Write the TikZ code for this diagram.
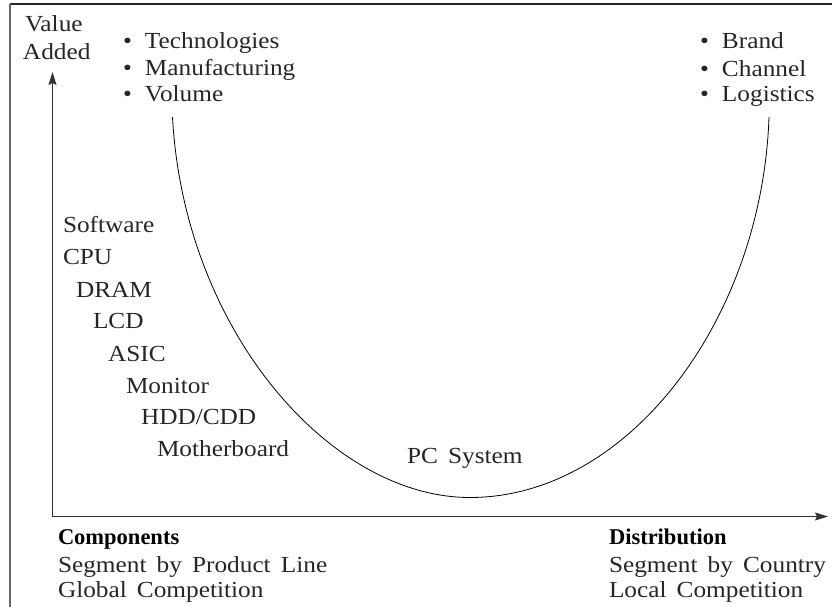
\documentclass[tikz,border=0pt]{standalone}
\usepackage{fontspec}
\setmainfont{Liberation Serif}[FakeStretch=1.1, WordSpace=1.6]
\newfontfamily\headfont{Liberation Serif}[FakeStretch=1.0]
\usetikzlibrary{arrows.meta}
\begin{document}
\begin{tikzpicture}[x=1pt,y=-1pt,
  lbl/.style={anchor=base west, inner sep=0pt, outer sep=0pt,
              font=\fontsize{23pt}{27pt}\selectfont, text=black!85},
  head/.style={lbl, font=\headfont\bfseries\fontsize{22.5pt}{27pt}\selectfont, text=black},
  axisline/.style={line width=1.1pt, black!80,
                   -{Stealth[length=13pt, width=8pt, inset=2pt]}},
  framegray/.style={line width=1.3pt, black!60},
  framedark/.style={line width=1.4pt, black!85},
  curveline/.style={line width=0.8pt, black}]
\useasboundingbox (0,0) rectangle (832,607);

% outer frame (left and top edges)
\draw[framedark] (9.5,4) -- (832,4);
\draw[framegray] (10,4) -- (10,607);

% axes
\coordinate (O) at (52.5,516.5);
\coordinate (ytip) at (52.5,72);
\coordinate (xtip) at (828,516.5);
\draw[axisline] (O) -- (ytip);
\draw[axisline] (O) -- (xtip);

% value-added "smile" curve
\coordinate (cstart) at (172.5,117);
\coordinate (cbottom) at (470,497.5);
\coordinate (cend) at (769,117);
\draw[curveline] (cstart) .. controls (184,330) and (330,497.5) .. (cbottom)
                 .. controls (628,497.5) and (762,320) .. (cend);

% axis title
\node[lbl] (value) at (25,32) {Value};
\node[lbl] (added) at (23,60) {Added};

% upstream drivers
\node[lbl] (tech) at (123,49) {\makebox[22pt][l]{\textbullet}Technologies};
\node[lbl] (manu) at (123,76) {\makebox[22pt][l]{\textbullet}Manufacturing};
\node[lbl] (vol)  at (123,102) {\makebox[22pt][l]{\textbullet}Volume};

% downstream drivers
\node[lbl] (brand) at (700,49) {\makebox[22pt][l]{\textbullet}Brand};
\node[lbl] (chan)  at (700,77) {\makebox[22pt][l]{\textbullet}Channel};
\node[lbl] (logi)  at (700,102) {\makebox[22pt][l]{\textbullet}Logistics};

% components along the curve
\node[lbl] (sw)   at (63,232) {Software};
\node[lbl] (cpu)  at (63,264) {CPU};
\node[lbl] (dram) at (76,297) {DRAM};
\node[lbl] (lcd)  at (93,328) {LCD};
\node[lbl] (asic) at (108,361) {ASIC};
\node[lbl] (mon)  at (126,393) {Monitor};
\node[lbl] (hdd)  at (141,424) {HDD/CDD};
\node[lbl] (mb)   at (157,456) {Motherboard};
\node[lbl] (pc)   at (407,463) {PC System};

% segment descriptions below the axis
\node[head] (comp) at (58,544) {Components};
\node[lbl] (segp)  at (58,572) {Segment by Product Line};
\node[lbl] (glob)  at (58,597) {Global Competition};
\node[head] (dist) at (609,544) {Distribution};
\node[lbl] (segc)  at (609,572) {Segment by Country};
\node[lbl] (loc)   at (609,597) {Local Competition};
\end{tikzpicture}
\end{document}
